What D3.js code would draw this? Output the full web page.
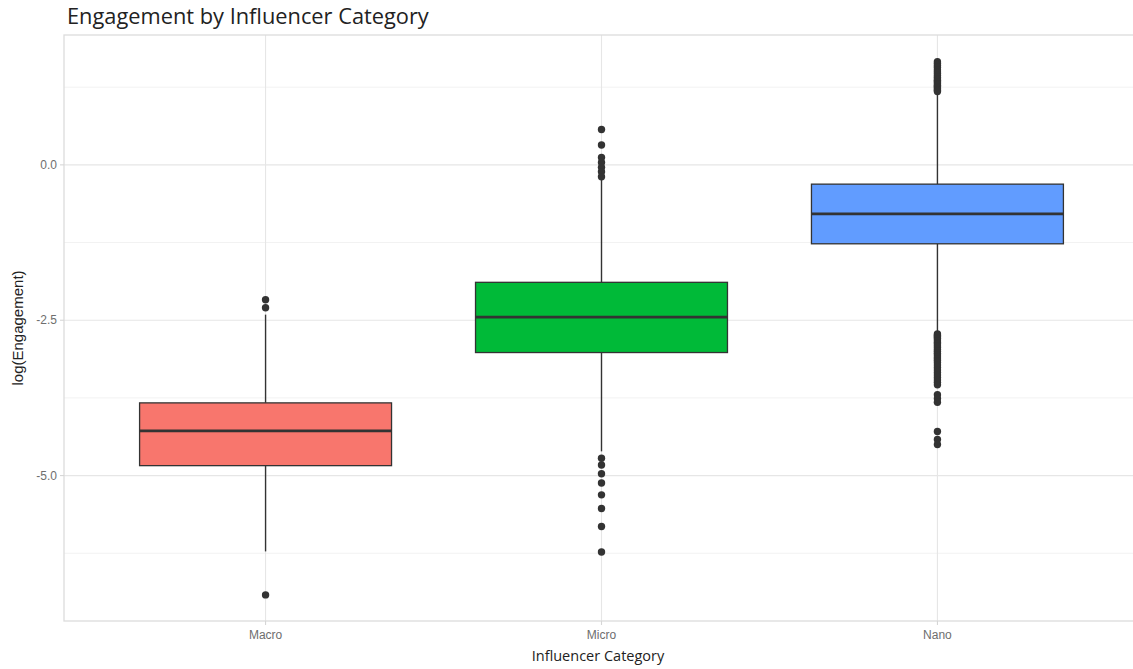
<!DOCTYPE html>
<html>
<head>
<meta charset="utf-8">
<script src="https://cdn.jsdelivr.net/npm/d3@7"></script>
<style>
  html, body { margin: 0; padding: 0; background: #fff; }
  svg { display: block; }
</style>
</head>
<body>
<svg id="chart" width="1133" height="669"></svg>
<script>
// Influencer categories and their fill colours
const categories = ["Macro", "Micro", "Nano"];
const fills = ["#F8766D", "#00BA38", "#619CFF"];

// Box statistics of log(Engagement) per category
const whiskerLow  = [-6.22, -4.61, -2.70];
const q1          = [-4.84, -3.02, -1.27];
const medians     = [-4.28, -2.45, -0.79];
const q3          = [-3.83, -1.89, -0.31];
const whiskerHigh = [-2.41, -0.24,  1.16];

// Outlying observations per category
const outliersMacro = [-2.17, -2.30, -6.92];
const outliersMicro = [0.57, 0.32, 0.12, 0.04, -0.04, -0.11, -0.19,
                       -4.72, -4.83, -4.97, -5.12, -5.31, -5.53, -5.82, -6.23];
const outliersNano  = [1.66, 1.63, 1.60, 1.57, 1.53, 1.50, 1.47, 1.44, 1.41, 1.38,
                       1.36, 1.34, 1.32, 1.30, 1.28, 1.26, 1.24, 1.22, 1.20, 1.18,
                       -2.72, -2.74, -2.76, -2.78, -2.80, -2.83, -2.86, -2.88, -2.91,
                       -2.94, -2.97, -3.00, -3.03, -3.06, -3.09, -3.12, -3.15, -3.18,
                       -3.22, -3.26, -3.30, -3.34, -3.38, -3.42, -3.46, -3.50, -3.54,
                       -3.70, -3.76, -3.82, -4.29, -4.42, -4.50];
const outliers = [outliersMacro, outliersMicro, outliersNano];

// Axis ticks
const yMajorTicks = [0.0, -2.5, -5.0];
const yMinorTicks = [1.25, -1.25, -3.75, -6.25];
const yTickLabels = ["0.0", "-2.5", "-5.0"];

const svg = d3.select("#chart");
const panel = { left: 64, right: 1139, top: 35, bottom: 621 };

// discrete axis: 0.6 category-step expansion on each side
const xs = d3.scalePoint()
  .domain(categories)
  .range([panel.left + (panel.right - panel.left) * 0.6 / 3.2,
          panel.right - (panel.right - panel.left) * 0.6 / 3.2]);
const step = xs.step();
const boxW = step * 0.75;

const y = d3.scaleLinear()
  .domain([-7.34, 2.09])
  .range([panel.bottom, panel.top]);

svg.append("defs").append("clipPath").attr("id", "panelClip")
  .append("rect")
  .attr("x", panel.left).attr("y", panel.top)
  .attr("width", panel.right - panel.left).attr("height", panel.bottom - panel.top);

// Grid
const grid = svg.append("g").attr("clip-path", "url(#panelClip)");
grid.selectAll(".minor").data(yMinorTicks).join("line")
  .attr("x1", panel.left).attr("x2", panel.right)
  .attr("y1", d => y(d)).attr("y2", d => y(d))
  .attr("stroke", "#f2f2f2").attr("stroke-width", 1);
grid.selectAll(".major").data(yMajorTicks).join("line")
  .attr("x1", panel.left).attr("x2", panel.right)
  .attr("y1", d => y(d)).attr("y2", d => y(d))
  .attr("stroke", "#e6e6e6").attr("stroke-width", 1.1);
grid.selectAll(".vmajor").data(categories).join("line")
  .attr("x1", d => xs(d)).attr("x2", d => xs(d))
  .attr("y1", panel.top).attr("y2", panel.bottom)
  .attr("stroke", "#e6e6e6").attr("stroke-width", 1.1);

// Boxplots
const boxes = svg.append("g").attr("clip-path", "url(#panelClip)");
categories.forEach((c, i) => {
  const cx = xs(c);
  const g = boxes.append("g");
  // whiskers
  g.append("line")
    .attr("x1", cx).attr("x2", cx)
    .attr("y1", y(q3[i])).attr("y2", y(whiskerHigh[i]))
    .attr("stroke", "#333").attr("stroke-width", 1.4);
  g.append("line")
    .attr("x1", cx).attr("x2", cx)
    .attr("y1", y(q1[i])).attr("y2", y(whiskerLow[i]))
    .attr("stroke", "#333").attr("stroke-width", 1.4);
  // box
  g.append("rect")
    .attr("x", cx - boxW / 2).attr("width", boxW)
    .attr("y", y(q3[i])).attr("height", y(q1[i]) - y(q3[i]))
    .attr("fill", fills[i]).attr("stroke", "#333").attr("stroke-width", 1.3);
  // median
  g.append("line")
    .attr("x1", cx - boxW / 2).attr("x2", cx + boxW / 2)
    .attr("y1", y(medians[i])).attr("y2", y(medians[i]))
    .attr("stroke", "#333").attr("stroke-width", 2.8);
  // outliers
  g.selectAll("circle").data(outliers[i]).join("circle")
    .attr("cx", cx).attr("cy", d => y(d)).attr("r", 3.7)
    .attr("fill", "#333");
});

// Panel border
svg.append("rect")
  .attr("x", panel.left).attr("y", panel.top)
  .attr("width", panel.right - panel.left).attr("height", panel.bottom - panel.top)
  .attr("fill", "none").attr("stroke", "#dcdcdc").attr("stroke-width", 1.3);

// Y axis ticks and labels
const yAxis = svg.append("g");
yAxis.selectAll("line").data(yMajorTicks).join("line")
  .attr("x1", panel.left - 4).attr("x2", panel.left)
  .attr("y1", d => y(d)).attr("y2", d => y(d))
  .attr("stroke", "#d6d6d6").attr("stroke-width", 1.1);
yAxis.selectAll("text").data(yMajorTicks).join("text")
  .attr("x", panel.left - 7).attr("y", d => y(d))
  .attr("dy", "0.35em").attr("text-anchor", "end")
  .attr("font-family", "Liberation Sans, Arial, sans-serif")
  .attr("font-size", 12).attr("fill", "#6e6e6e")
  .text((d, i) => yTickLabels[i]);

// X axis ticks and labels
const xAxis = svg.append("g");
xAxis.selectAll("line").data(categories).join("line")
  .attr("x1", d => xs(d)).attr("x2", d => xs(d))
  .attr("y1", panel.bottom).attr("y2", panel.bottom + 4)
  .attr("stroke", "#d6d6d6").attr("stroke-width", 1.1);
xAxis.selectAll("text").data(categories).join("text")
  .attr("x", d => xs(d)).attr("y", panel.bottom + 18)
  .attr("text-anchor", "middle")
  .attr("font-family", "Liberation Sans, Arial, sans-serif")
  .attr("font-size", 12).attr("fill", "#6e6e6e")
  .text(d => d);

// Axis titles
svg.append("text")
  .attr("x", 598).attr("y", 661)
  .attr("text-anchor", "middle")
  .attr("font-family", "Open Sans, sans-serif")
  .attr("font-size", 14.5).attr("fill", "#222")
  .text("Influencer Category");

svg.append("text")
  .attr("transform", `translate(23, ${(panel.top + panel.bottom) / 2}) rotate(-90)`)
  .attr("text-anchor", "middle")
  .attr("font-family", "Liberation Sans, Arial, sans-serif")
  .attr("font-size", 15).attr("fill", "#222")
  .text("log(Engagement)");

// Title
svg.append("text")
  .attr("x", 67).attr("y", 24)
  .attr("font-family", "Open Sans, sans-serif")
  .attr("font-size", 21.8).attr("fill", "#222")
  .text("Engagement by Influencer Category");
</script>
</body>
</html>
